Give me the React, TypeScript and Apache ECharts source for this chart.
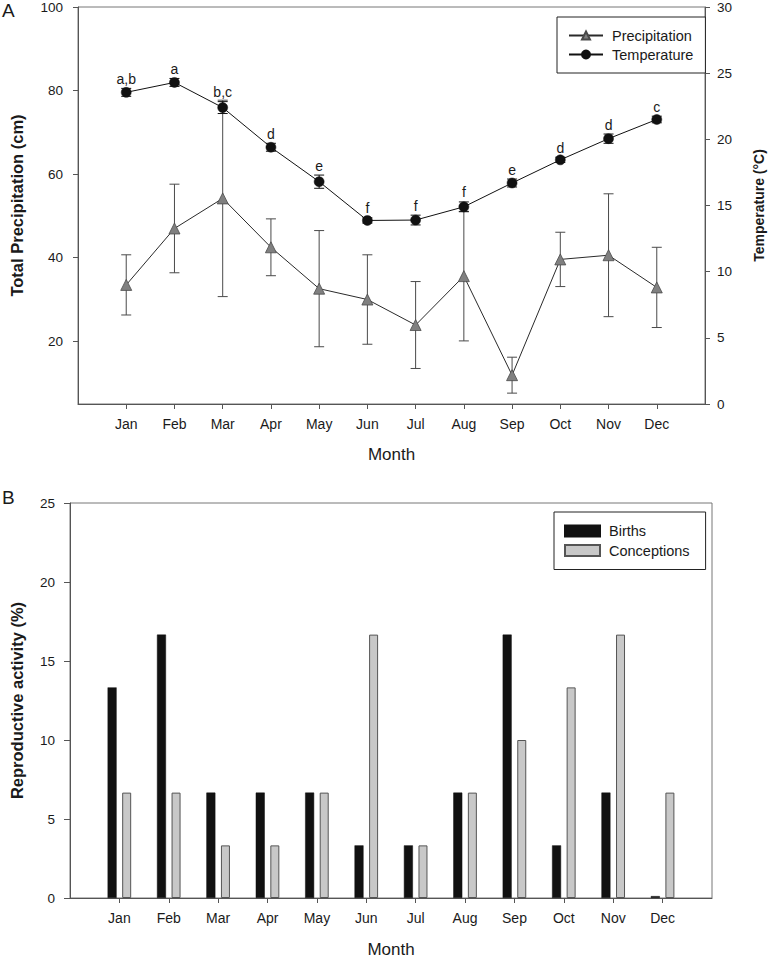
import React, { useEffect, useRef } from "react";
import * as echarts from "echarts";

const months = ["Jan", "Feb", "Mar", "Apr", "May", "Jun", "Jul", "Aug", "Sep", "Oct", "Nov", "Dec"];
const monthPos = [1, 2, 3, 4, 5, 6, 7, 8, 9, 10, 11, 12];

const precipMean = [33.5, 47.0, 54.2, 42.5, 32.6, 30.0, 23.9, 35.6, 11.9, 39.6, 40.6, 32.9];
const precipErr = [7.2, 10.6, 23.5, 6.8, 13.9, 10.7, 10.4, 15.5, 4.3, 6.5, 14.7, 9.6];

const tempMean = [23.55, 24.3, 22.4, 19.4, 16.8, 13.87, 13.9, 14.9, 16.7, 18.45, 20.05, 21.5];
const tempErr = [0.3, 0.3, 0.45, 0.3, 0.5, 0.2, 0.37, 0.37, 0.3, 0.2, 0.35, 0.25];
const tempLetters = ["a,b", "a", "b,c", "d", "e", "f", "f", "f", "e", "d", "d", "c"];

const births = [13.33, 16.67, 6.67, 6.67, 6.67, 3.33, 3.33, 6.67, 16.67, 3.33, 6.67, 0.12];
const conceptions = [6.67, 6.67, 3.33, 3.33, 6.67, 16.67, 3.33, 6.67, 10, 13.33, 16.67, 6.67];

const precipTicks = [20, 40, 60, 80, 100];

const FONT = "'Liberation Sans', Arial, Helvetica, sans-serif";
const AXIS = "#555";
const TEXT = "#1a1a1a";

function errorRenderer(color: string, letters?: string[]) {
  return (params: any, api: any) => {
    const x = api.value(0);
    const m = api.value(1);
    const e = api.value(2);
    const top = api.coord([x, m + e]);
    const bot = api.coord([x, m - e]);
    const hw = 5;
    const style = { stroke: color, lineWidth: 1 };
    const children: any[] = [
      { type: "line", shape: { x1: top[0], y1: top[1], x2: bot[0], y2: bot[1] }, style },
      { type: "line", shape: { x1: top[0] - hw, y1: top[1], x2: top[0] + hw, y2: top[1] }, style },
      { type: "line", shape: { x1: bot[0] - hw, y1: bot[1], x2: bot[0] + hw, y2: bot[1] }, style },
    ];
    if (letters) {
      children.push({
        type: "text",
        x: top[0],
        y: top[1] - 2.5,
        style: {
          text: letters[params.dataIndex],
          align: "center",
          verticalAlign: "bottom",
          fontSize: 14,
          fontFamily: FONT,
          fill: TEXT,
        },
      });
    }
    return { type: "group", children };
  };
}

export default function App() {
  const ref = useRef<HTMLDivElement>(null);

  useEffect(() => {
    document.body.style.margin = "0";
    if (!ref.current) return;
    const chart = echarts.init(ref.current, undefined, { renderer: "svg" });

    const baseX = (gridIndex: number, labelMargin: number, nameGap: number) => ({
      gridIndex,
      type: "value",
      min: 0,
      max: 13,
      name: "Month",
      nameLocation: "middle",
      nameGap,
      nameTextStyle: { fontSize: 17, color: TEXT, fontFamily: FONT },
      axisLine: { show: true, onZero: false, lineStyle: { color: AXIS, width: 1 } },
      axisTick: { show: true, length: 5, inside: false, customValues: monthPos, lineStyle: { color: AXIS } },
      axisLabel: {
        customValues: monthPos,
        formatter: (v: number) => months[Math.round(v) - 1] ?? "",
        margin: labelMargin,
        fontSize: 14,
        color: TEXT,
        fontFamily: FONT,
      },
      splitLine: { show: false },
    });

    const option: any = {
      animation: false,
      backgroundColor: "#fff",
      textStyle: { fontFamily: FONT },
      graphic: [
        { type: "text", left: 2, top: 1, style: { text: "A", fontSize: 19, fill: TEXT, fontFamily: FONT } },
        { type: "text", left: 2, top: 488, style: { text: "B", fontSize: 19, fill: TEXT, fontFamily: FONT } },
      ],
      grid: [
        { left: 70, top: 7, width: 642, height: 397, show: true, borderColor: "#777", borderWidth: 1, backgroundColor: "transparent" },
        { left: 70, top: 503, width: 642, height: 396, show: true, borderColor: "#777", borderWidth: 1, backgroundColor: "transparent" },
      ],
      legend: [
        {
          data: ["Precipitation", "Temperature"],
          orient: "vertical",
          left: 557,
          top: 17,
          itemWidth: 34,
          itemHeight: 10,
          itemGap: 4,
          padding: [11, 12, 11, 11],
          borderColor: "#222",
          borderWidth: 1,
          backgroundColor: "#fff",
          textStyle: { fontSize: 14.5, color: TEXT, fontFamily: FONT, padding: [0, 0, 0, 4] },
        },
        {
          data: ["Births", "Conceptions"],
          orient: "vertical",
          left: 554,
          top: 512,
          icon: "rect",
          itemWidth: 35,
          itemHeight: 11,
          itemGap: 4.5,
          padding: [11.5, 16, 11.5, 10],
          borderColor: "#222",
          borderWidth: 1,
          backgroundColor: "#fff",
          textStyle: { fontSize: 14.5, color: TEXT, fontFamily: FONT, padding: [0, 0, 0, 4] },
        },
      ],
      xAxis: [baseX(0, 13, 42), baseX(1, 13, 43)],
      yAxis: [
        {
          gridIndex: 0,
          type: "value",
          min: 5,
          max: 100,
          position: "left",
          name: "Total Precipitation (cm)",
          nameLocation: "middle",
          nameGap: 53,
          nameRotate: 90,
          nameTextStyle: { fontSize: 16.5, fontWeight: "bold", color: TEXT, fontFamily: FONT },
          axisLine: { show: true, onZero: false, lineStyle: { color: AXIS } },
          axisTick: { show: true, length: 5, customValues: precipTicks, lineStyle: { color: AXIS } },
          axisLabel: { customValues: precipTicks, margin: 15, fontSize: 13.5, color: TEXT, fontFamily: FONT },
          splitLine: { show: false },
        },
        {
          gridIndex: 0,
          type: "value",
          min: 0,
          max: 30,
          interval: 5,
          position: "right",
          name: "Temperature (°C)",
          nameLocation: "middle",
          nameGap: 47,
          nameRotate: 90,
          nameTextStyle: { fontSize: 14, fontWeight: "bold", color: TEXT, fontFamily: FONT },
          axisLine: { show: true, onZero: false, lineStyle: { color: AXIS } },
          axisTick: { show: true, length: 5, lineStyle: { color: AXIS } },
          axisLabel: { margin: 12, fontSize: 13.5, color: TEXT, fontFamily: FONT },
          splitLine: { show: false },
        },
        {
          gridIndex: 1,
          type: "value",
          min: 0,
          max: 25,
          interval: 5,
          position: "left",
          name: "Reproductive activity (%)",
          nameLocation: "middle",
          nameGap: 45,
          nameRotate: 90,
          nameTextStyle: { fontSize: 16.5, fontWeight: "bold", color: TEXT, fontFamily: FONT },
          axisLine: { show: true, onZero: false, lineStyle: { color: AXIS } },
          axisTick: { show: true, length: 6, lineStyle: { color: AXIS } },
          axisLabel: { margin: 15, fontSize: 13.5, color: TEXT, fontFamily: FONT },
          splitLine: { show: false },
        },
      ],
      series: [
        {
          name: "precipErr",
          type: "custom",
          xAxisIndex: 0,
          yAxisIndex: 0,
          z: 1,
          encode: { x: 0, y: 1 },
          renderItem: errorRenderer("#4a4a4a"),
          data: precipMean.map((v, i) => [monthPos[i], v, precipErr[i]]),
        },
        {
          name: "Precipitation",
          type: "line",
          xAxisIndex: 0,
          yAxisIndex: 0,
          z: 2,
          symbol: "triangle",
          symbolSize: 11,
          lineStyle: { color: "#2a2a2a", width: 1 },
          itemStyle: { color: "#808080", borderColor: "#4a4a4a", borderWidth: 0.8 },
          data: precipMean.map((v, i) => [monthPos[i], v]),
        },
        {
          name: "tempErr",
          type: "custom",
          xAxisIndex: 0,
          yAxisIndex: 1,
          z: 3,
          encode: { x: 0, y: 1 },
          renderItem: errorRenderer("#111", tempLetters),
          data: tempMean.map((v, i) => [monthPos[i], v, tempErr[i]]),
        },
        {
          name: "Temperature",
          type: "line",
          xAxisIndex: 0,
          yAxisIndex: 1,
          z: 4,
          symbol: "circle",
          symbolSize: 10,
          lineStyle: { color: "#111", width: 1 },
          itemStyle: { color: "#111", borderColor: "#111", borderWidth: 0.5 },
          data: tempMean.map((v, i) => [monthPos[i], v]),
        },
        {
          name: "Births",
          type: "bar",
          xAxisIndex: 1,
          yAxisIndex: 2,
          barWidth: 9,
          barGap: "62%",
          itemStyle: { color: "#111", borderColor: "#111", borderWidth: 0.5 },
          data: births.map((v, i) => [monthPos[i], v]),
        },
        {
          name: "Conceptions",
          type: "bar",
          xAxisIndex: 1,
          yAxisIndex: 2,
          barWidth: 9,
          barGap: "62%",
          itemStyle: { color: "#c8c8c8", borderColor: "#555", borderWidth: 1 },
          data: conceptions.map((v, i) => [monthPos[i], v]),
        },
      ],
    };

    chart.setOption(option);
    return () => chart.dispose();
  }, []);

  return <div ref={ref} style={{ width: 774, height: 959 }} />;
}
